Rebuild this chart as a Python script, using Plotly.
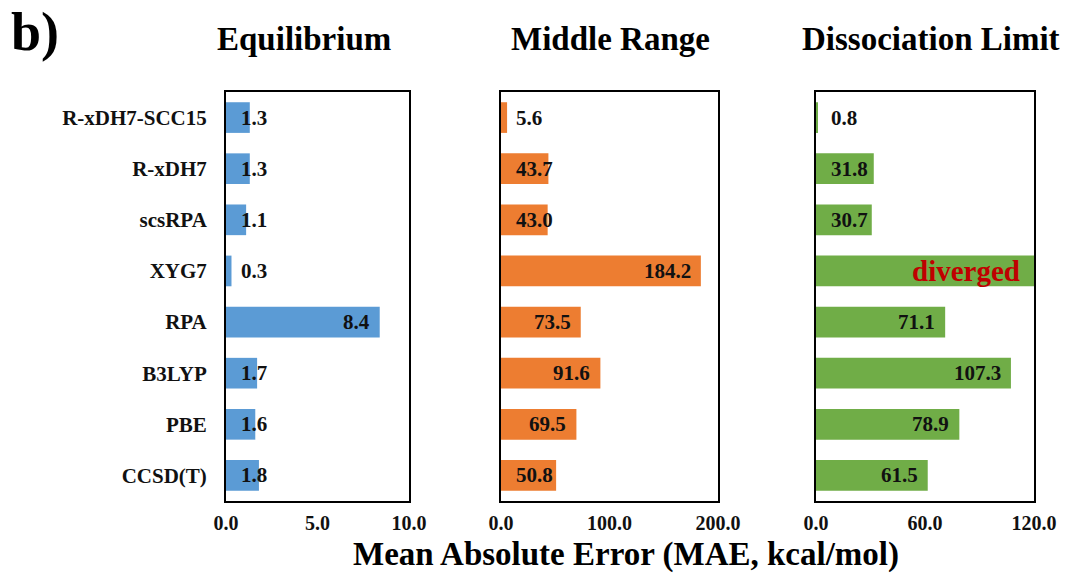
import plotly.graph_objects as go

methods = ["R-xDH7-SCC15", "R-xDH7", "scsRPA", "XYG7", "RPA", "B3LYP", "PBE", "CCSD(T)"]
equilibrium = [1.3, 1.3, 1.1, 0.3, 8.4, 1.7, 1.6, 1.8]
middle_range = [5.6, 43.7, 43.0, 184.2, 73.5, 91.6, 69.5, 50.8]
dissociation = [0.8, 31.8, 30.7, None, 71.1, 107.3, 78.9, 61.5]  # XYG7 diverged
diverged_cap = 120.0  # diverged bar drawn to full axis range

panel_titles = ["Equilibrium", "Middle Range", "Dissociation Limit"]
tick_vals = [[0, 5, 10], [0, 100, 200], [0, 60, 120]]
x_ranges = [[0, 10], [0, 200], [0, 120]]
colors = ["#5B9BD5", "#ED7D31", "#70AD47"]

FONT = "Liberation Serif"
W, H = 1072, 573

def px(v):
    return v / W

def py(v):
    return 1 - v / H

x_domains = [[px(226), px(409)], [px(501), px(718)], [px(816), px(1034)]]
y_domain = [py(501), py(92)]

fig = go.Figure()

series = [equilibrium, middle_range,
          [v if v is not None else diverged_cap for v in dissociation]]
labels_src = [equilibrium, middle_range, dissociation]
LBL = dict(family=FONT, size=21, color="#111111", weight="bold")

for i in range(3):
    xa = "x" if i == 0 else f"x{i+1}"
    ya = "y" if i == 0 else f"y{i+1}"
    fig.add_trace(go.Bar(
        x=series[i], y=methods, orientation="h",
        marker=dict(color=colors[i], line=dict(width=0)),
        width=0.6, xaxis=xa, yaxis=ya, showlegend=False, hoverinfo="skip",
        cliponaxis=True,
    ))
    rng = x_ranges[i][1]
    dom_w = (x_domains[i][1] - x_domains[i][0]) * W
    for m, v, s in zip(methods, labels_src[i], series[i]):
        if v is None:
            fig.add_annotation(
                x=s, y=m, xref=xa, yref=ya, text="diverged",
                showarrow=False, xanchor="right", yanchor="middle", xshift=-12,
                font=dict(family=FONT, size=29, color="#C00000", weight="bold"),
            )
            continue
        bar_px = v / rng * dom_w
        if bar_px < 60:
            fig.add_annotation(
                x=0, y=m, xref=xa, yref=ya, text=f"{v:.1f}",
                showarrow=False, xanchor="left", yanchor="middle", xshift=13,
                font=LBL,
            )
        else:
            fig.add_annotation(
                x=v, y=m, xref=xa, yref=ya, text=f"{v:.1f}",
                showarrow=False, xanchor="right", yanchor="middle", xshift=-8,
                font=LBL,
            )
    # panel title
    fig.add_annotation(
        x=(x_domains[i][0] + x_domains[i][1]) / 2 + [px(-14), px(1), px(6)][i],
        y=py(39), xref="paper", yref="paper", text=panel_titles[i],
        showarrow=False, xanchor="center", yanchor="middle",
        font=dict(family=FONT, size=33, color="#000000", weight="bold"),
    )

axis_common = dict(showline=True, linecolor="#000000", linewidth=2, mirror=True,
                   showgrid=False, zeroline=False, ticks="", automargin=False)
for i in range(3):
    xkey = "xaxis" if i == 0 else f"xaxis{i+1}"
    ykey = "yaxis" if i == 0 else f"yaxis{i+1}"
    fig.update_layout(**{
        xkey: dict(domain=x_domains[i], range=x_ranges[i], tickvals=tick_vals[i],
                   tickformat=".1f", anchor="y" if i == 0 else f"y{i+1}",
                   tickfont=dict(family=FONT, size=20, color="#111111", weight="bold"),
                   ticklabelstandoff=3, **axis_common),
        ykey: dict(domain=y_domain, categoryorder="array",
                   categoryarray=methods, autorange="reversed",
                   anchor="x" if i == 0 else f"x{i+1}",
                   showticklabels=(i == 0),
                   tickfont=dict(family=FONT, size=21, color="#111111", weight="bold"),
                   ticklabelstandoff=13, **axis_common),
    })

fig.add_annotation(x=px(626), y=py(554), xref="paper", yref="paper",
                   text="Mean Absolute Error (MAE, kcal/mol)", showarrow=False,
                   xanchor="center", yanchor="middle",
                   font=dict(family=FONT, size=33, color="#000000", weight="bold"))
fig.add_annotation(x=px(9), y=py(32), xref="paper", yref="paper",
                   text="b)", showarrow=False, xanchor="left", yanchor="middle",
                   font=dict(family=FONT, size=54, color="#000000", weight="bold"))

fig.update_layout(width=W, height=H,
                  margin=dict(l=0, r=0, t=0, b=0, autoexpand=False),
                  paper_bgcolor="white", plot_bgcolor="white", bargap=0.4)

fig.write_html("out.html")
